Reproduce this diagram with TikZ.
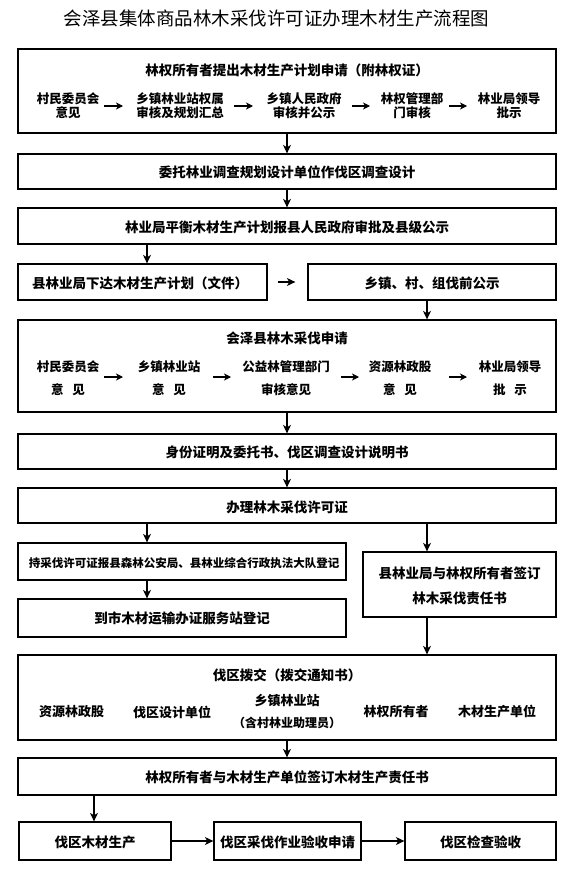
\documentclass[tikz,border=0pt]{standalone}
\usepackage{fontspec}
\setmainfont{Noto Sans CJK SC}
\usetikzlibrary{arrows.meta}
\begin{document}
\begin{tikzpicture}[x=1pt,y=-1pt,
  box/.style={draw=black, line width=1.3pt, inner sep=0pt},
  ttl/.style={font=\fontsize{18.5}{22}\selectfont, inner sep=0pt},
  tt/.style={font=\fontsize{13.5}{16}\selectfont\bfseries, inner sep=0pt, align=center},
  rt/.style={font=\fontsize{12.5}{14}\selectfont\bfseries, inner sep=0pt, align=center},
  rtw/.style={font=\fontsize{12.5}{23}\selectfont\bfseries, inner sep=0pt, align=center},
  arr/.style={-{Stealth[length=8.5pt,width=8pt,inset=2.5pt]}, line width=1.2pt},
  rarr/.style={-{Stealth[length=7pt,width=7pt,inset=2pt]}, line width=1.1pt}]
\fill[white] (0,0) rectangle (575,872);
\useasboundingbox (0,0) rectangle (575,872);

% title
\node[ttl] (title) at (276.5,18) {会泽县集体商品林木采伐许可证办理木材生产流程图};

% boxes
\node[box, minimum width=538pt, minimum height=84pt] (b1) at (287,91) {};
\node[box, minimum width=538pt, minimum height=35pt] (b2) at (287,171.5) {};
\node[box, minimum width=538pt, minimum height=36pt] (b3) at (287,226) {};
\node[box, minimum width=249pt, minimum height=36pt] (b4l) at (142.5,282) {};
\node[box, minimum width=248pt, minimum height=36pt] (b4r) at (432,282) {};
\node[box, minimum width=538pt, minimum height=92pt] (b5) at (287,366) {};
\node[box, minimum width=538pt, minimum height=35pt] (b6) at (287,451.5) {};
\node[box, minimum width=538pt, minimum height=35pt] (b7) at (287,505.5) {};
\node[box, minimum width=328pt, minimum height=37pt] (b8l) at (182,561.5) {};
\node[box, minimum width=328pt, minimum height=38pt] (b9l) at (182,618) {};
\node[box, minimum width=193pt, minimum height=65pt] (b8r) at (459.5,584.5) {};
\node[box, minimum width=538pt, minimum height=85pt] (b10) at (287,697.5) {};
\node[box, minimum width=538pt, minimum height=37pt] (b11) at (287,776.5) {};
\node[box, minimum width=152pt, minimum height=38pt] (bb1) at (95,841) {};
\node[box, minimum width=147pt, minimum height=38pt] (bb2) at (287.5,841) {};
\node[box, minimum width=151pt, minimum height=38pt] (bb3) at (480.5,841) {};

% box texts
\node[tt] (t1) at (287,70) {林权所有者提出木材生产计划申请（附林权证）};
\node[rt] (r11) at (68,106) {村民委员会\\意见};
\node[rt] (r12) at (180,106) {乡镇林业站权属\\审核及规划汇总};
\node[rt] (r13) at (304,106) {乡镇人民政府\\审核并公示};
\node[rt] (r14) at (412,106) {林权管理部\\门审核};
\node[rt] (r15) at (509,106) {林业局领导\\批示};
\node[tt] (t2) at (287,172) {委托林业调查规划设计单位作伐区调查设计};
\node[tt] (t3) at (287,227) {林业局平衡木材生产计划报县人民政府审批及县级公示};
\node[tt] (t4l) at (140,283) {县林业局下达木材生产计划（文件）};
\node[tt] (t4r) at (432,283) {乡镇、村、组伐前公示};
\node[tt] (t5) at (287,338) {会泽县林木采伐申请};
\node[rtw] (r51) at (68,378.5) {村民委员会\\意\hspace{9pt}见};
\node[rtw] (r52) at (169,378.5) {乡镇林业站\\意\hspace{9pt}见};
\node[rtw] (r53) at (286,378.5) {公益林管理部门\\审核意见};
\node[rtw] (r54) at (400,378.5) {资源林政股\\意\hspace{9pt}见};
\node[rtw] (r55) at (510,378.5) {林业局领导\\批\hspace{9pt}示};
\node[tt] (t6) at (287,452) {身份证明及委托书、伐区调查设计说明书};
\node[tt] (t7) at (287,507) {办理林木采伐许可证};
\node[tt, font=\fontsize{11.5}{14}\selectfont\bfseries] (t8l) at (184,563) {持采伐许可证报县森林公安局、县林业综合行政执法大队登记};
\node[tt] (t9l) at (182,618) {到市木材运输办证服务站登记};
\node[tt, font=\fontsize{13.5}{25}\selectfont\bfseries] (t8r) at (459.5,585.5) {县林业局与林权所有者签订\\林木采伐责任书};
\node[tt] (t10) at (287,675) {伐区拨交（拨交通知书）};
\node[rt, font=\fontsize{13}{16}\selectfont\bfseries] (r101) at (71.5,712) {资源林政股};
\node[rt, font=\fontsize{13}{16}\selectfont\bfseries] (r102) at (172,712) {伐区设计单位};
\node[rt, font=\fontsize{13}{22}\selectfont\bfseries] (r103) at (287,711) {乡镇林业站\\{\fontsize{12}{22}\selectfont （含村林业助理员）}};
\node[rt, font=\fontsize{13}{16}\selectfont\bfseries] (r104) at (396,712) {林权所有者};
\node[rt, font=\fontsize{13}{16}\selectfont\bfseries] (r105) at (497,712) {木材生产单位};
\node[tt] (t11) at (287,777) {林权所有者与木材生产单位签订木材生产责任书};
\node[tt] (tb1) at (95,842) {伐区木材生产};
\node[tt] (tb2) at (287.5,842) {伐区采伐作业验收申请};
\node[tt] (tb3) at (480.5,842) {伐区检查验收};

% x positions of side connectors
\coordinate (xl) at (147,0);
\coordinate (xr) at (427,0);
\coordinate (xb) at (94,0);

% main connectors
\draw[arr] (b1.south) -- (b2.north);
\draw[arr] (b2.south) -- (b3.north);
\draw[arr] (b3.south -| xl) -- (b4l.north -| xl);
\draw[arr, shorten <=10pt, shorten >=12pt] (b4l.east) -- (b4r.west);
\draw[arr] (b4r.south -| xr) -- (b5.north -| xr);
\draw[arr] (b5.south) -- (b6.north);
\draw[arr] (b6.south) -- (b7.north);
\draw[arr] (b7.south -| xl) -- (b8l.north -| xl);
\draw[arr] (b8l.south -| xl) -- (b9l.north -| xl);
\draw[arr] (b7.south -| xr) -- (b8r.north -| xr);
\draw[arr] (b8r.south -| xr) -- (b10.north -| xr);
\draw[arr] (b10.south) -- (b11.north);
\draw[arr] (b11.south -| xb) -- (bb1.north -| xb);
\draw[arr] (bb1.east) -- (bb2.west);
\draw[arr] (bb2.east) -- (bb3.west);

% row arrows inside boxes
\coordinate (p1a) at (104,106); \coordinate (p1b) at (123,106);
\coordinate (p2a) at (234,106); \coordinate (p2b) at (253,106);
\coordinate (p3a) at (352,106); \coordinate (p3b) at (370,106);
\coordinate (p4a) at (449,106); \coordinate (p4b) at (467,106);
\draw[rarr] (p1a) -- (p1b);
\draw[rarr] (p2a) -- (p2b);
\draw[rarr] (p3a) -- (p3b);
\draw[rarr] (p4a) -- (p4b);
\coordinate (q1a) at (104,377); \coordinate (q1b) at (123,377);
\coordinate (q2a) at (213,377); \coordinate (q2b) at (231,377);
\coordinate (q3a) at (341,377); \coordinate (q3b) at (359,377);
\coordinate (q4a) at (449,377); \coordinate (q4b) at (467,377);
\draw[rarr] (q1a) -- (q1b);
\draw[rarr] (q2a) -- (q2b);
\draw[rarr] (q3a) -- (q3b);
\draw[rarr] (q4a) -- (q4b);
\end{tikzpicture}
\end{document}
